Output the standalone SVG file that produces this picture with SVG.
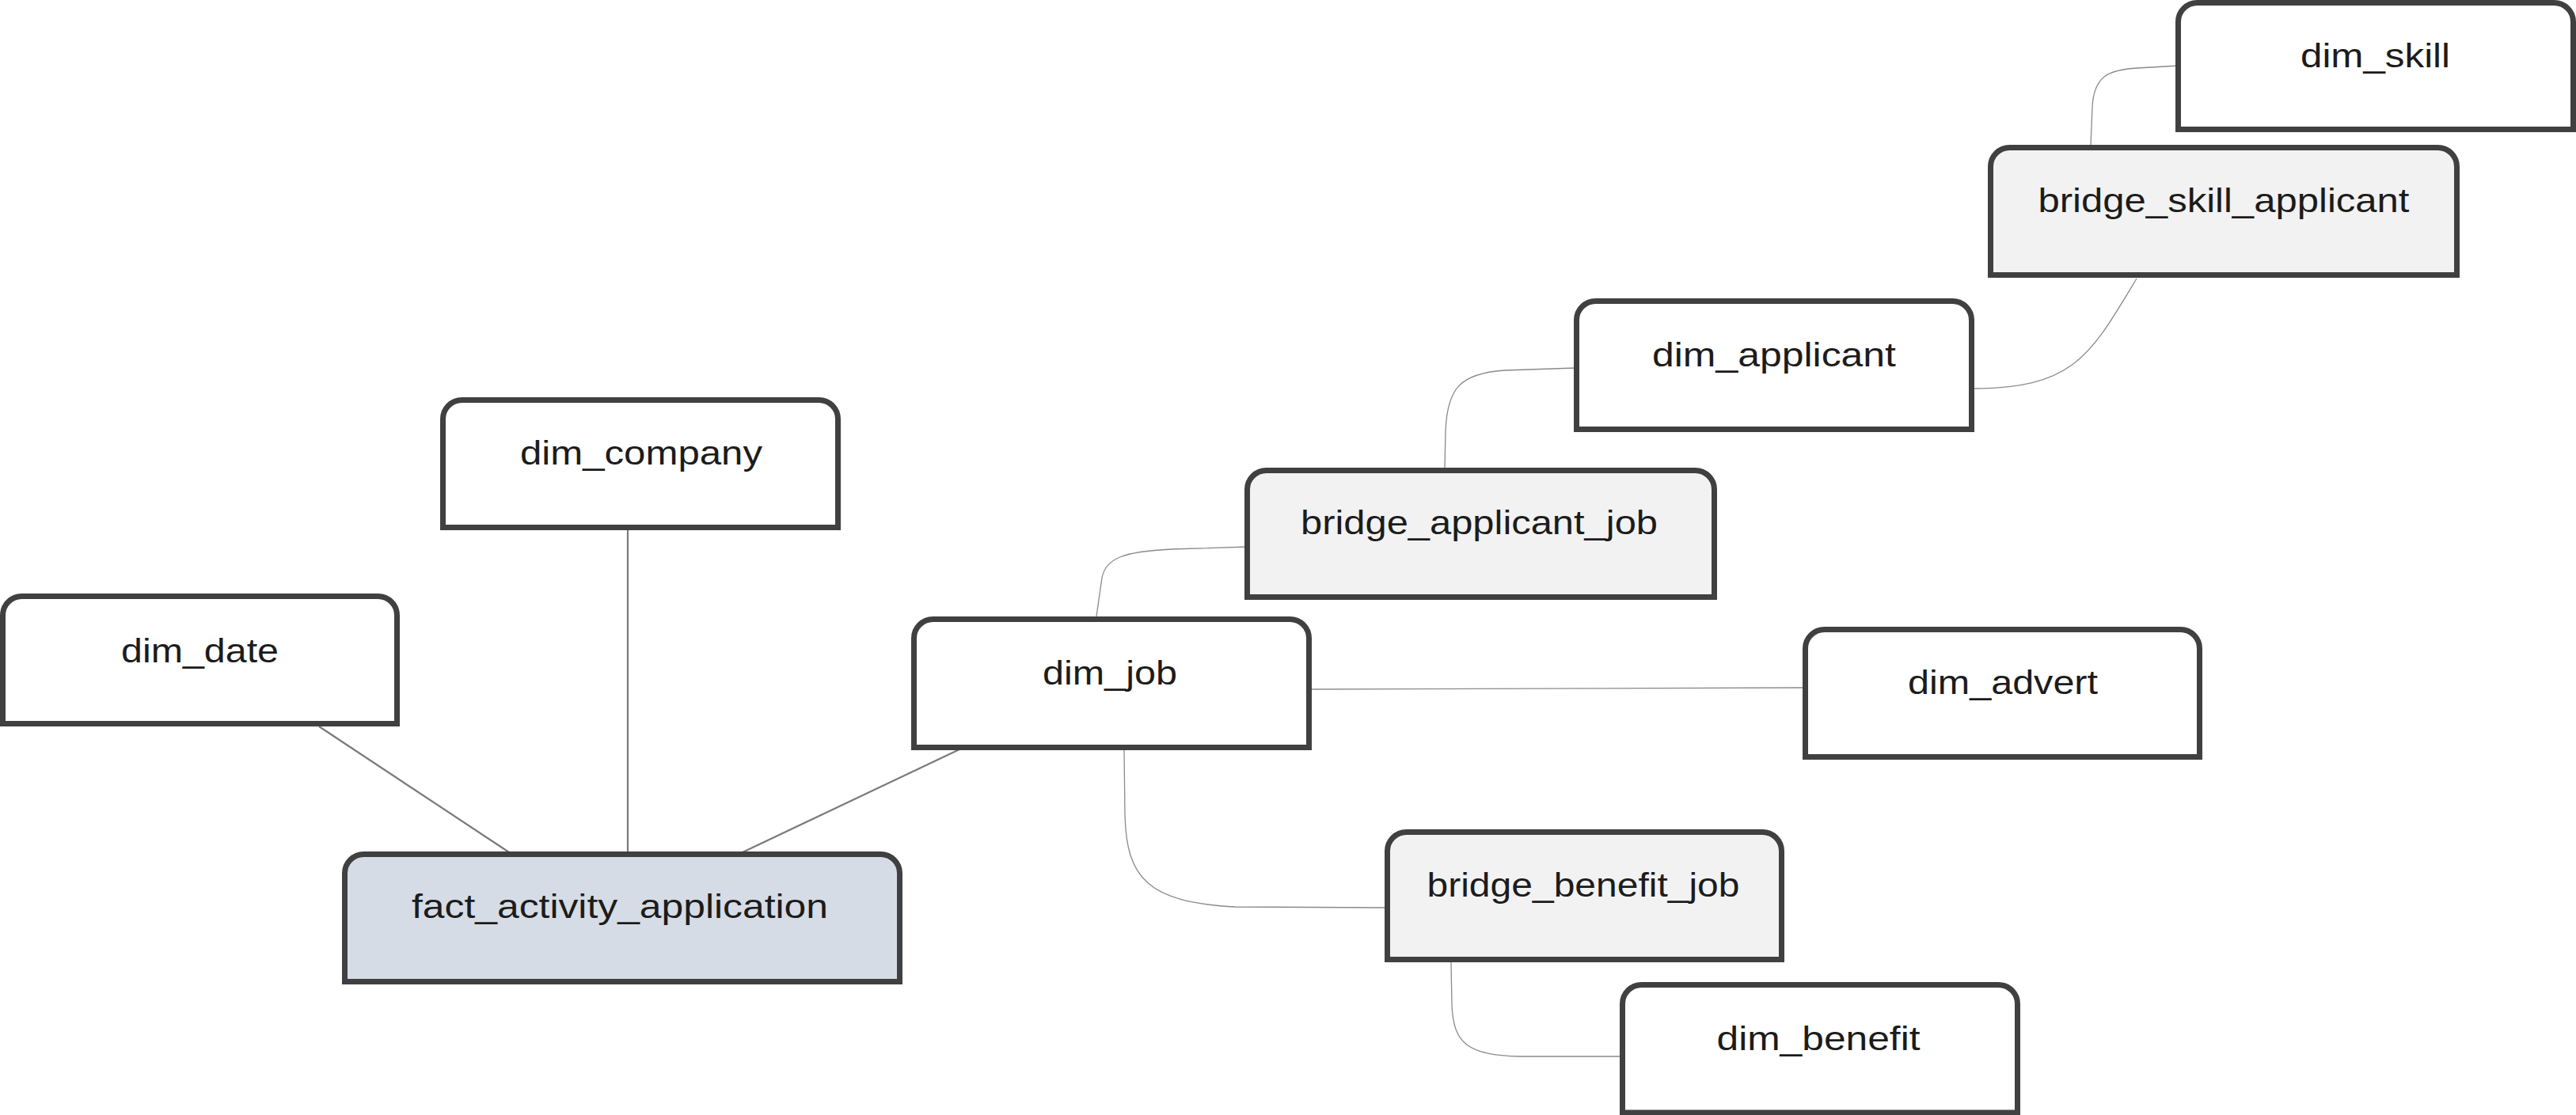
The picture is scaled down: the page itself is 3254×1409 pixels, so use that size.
<svg xmlns="http://www.w3.org/2000/svg" width="3254" height="1409" viewBox="0 0 3254 1409">
<style>
.bg{fill:#ffffff}
.node{stroke:#404040;stroke-width:7;stroke-linejoin:miter}
.dim{fill:#ffffff}
.bridge{fill:#f2f2f2}
.fact{fill:#d6dce5}
.lbl{font-family:"Liberation Sans","Noto Sans",Arial,sans-serif;font-size:42px;fill:#1c1c1c;text-anchor:middle}
.edge{fill:none;stroke:#8a8a8a;stroke-width:1.3}
.edge.main{stroke:#7a7a7a;stroke-width:2.2}
</style>
<rect class="bg" x="0" y="0" width="3254" height="1409"/>
<g id="connectors">
<path class="edge main" d="M403 918 L643 1077"/>
<path class="edge main" d="M793 670 L793 1077"/>
<path class="edge main" d="M1212 947 L938 1077"/>
<path class="edge" d="M1385 779 L1392 730 C1397 705 1420 697 1480 694 L1576 691"/>
<path class="edge" d="M1825 591 L1826 545 C1828 490 1845 472 1900 468 L1990 465"/>
<path class="edge" d="M2490 491 C2620 491 2640 450 2699 352"/>
<path class="edge" d="M2641 184 L2643 135 C2645 95 2665 88 2700 86 L2752 83"/>
<path class="edge" d="M1657 871 L2281 869"/>
<path class="edge" d="M1420 948 L1421 1030 C1423 1110 1450 1140 1560 1146 L1752 1147"/>
<path class="edge" d="M1833 1216 L1834 1270 C1836 1320 1855 1333 1920 1335 L2050 1335"/>
</g>
<g id="dim_date">
<path class="node dim" d="M3.5 914.5 V777.5 A24 24 0 0 1 27.5 753.5 H477.5 A24 24 0 0 1 501.5 777.5 V914.5 Z"/>
<text class="lbl" x="252.5" y="837" textLength="199" lengthAdjust="spacingAndGlyphs">dim_date</text>
</g>
<g id="dim_company">
<path class="node dim" d="M559.5 666.5 V529.5 A24 24 0 0 1 583.5 505.5 H1034.5 A24 24 0 0 1 1058.5 529.5 V666.5 Z"/>
<text class="lbl" x="810" y="587" textLength="306" lengthAdjust="spacingAndGlyphs">dim_company</text>
</g>
<g id="fact_activity_application">
<path class="node fact" d="M435.5 1240.5 V1103.5 A24 24 0 0 1 459.5 1079.5 H1112.5 A24 24 0 0 1 1136.5 1103.5 V1240.5 Z"/>
<text class="lbl" x="783" y="1160" textLength="526" lengthAdjust="spacingAndGlyphs">fact_activity_application</text>
</g>
<g id="dim_job">
<path class="node dim" d="M1154.5 944.5 V806.5 A24 24 0 0 1 1178.5 782.5 H1629.5 A24 24 0 0 1 1653.5 806.5 V944.5 Z"/>
<text class="lbl" x="1402" y="865" textLength="170" lengthAdjust="spacingAndGlyphs">dim_job</text>
</g>
<g id="bridge_applicant_job">
<path class="node bridge" d="M1575.5 754.5 V618.5 A24 24 0 0 1 1599.5 594.5 H2141.5 A24 24 0 0 1 2165.5 618.5 V754.5 Z"/>
<text class="lbl" x="1868.5" y="675" textLength="451" lengthAdjust="spacingAndGlyphs">bridge_applicant_job</text>
</g>
<g id="dim_applicant">
<path class="node dim" d="M1991.5 542.5 V404.5 A24 24 0 0 1 2015.5 380.5 H2466.5 A24 24 0 0 1 2490.5 404.5 V542.5 Z"/>
<text class="lbl" x="2241" y="463" textLength="308" lengthAdjust="spacingAndGlyphs">dim_applicant</text>
</g>
<g id="bridge_skill_applicant">
<path class="node bridge" d="M2514.5 347.5 V210.5 A24 24 0 0 1 2538.5 186.5 H3079.5 A24 24 0 0 1 3103.5 210.5 V347.5 Z"/>
<text class="lbl" x="2809" y="268" textLength="469" lengthAdjust="spacingAndGlyphs">bridge_skill_applicant</text>
</g>
<g id="dim_skill">
<path class="node dim" d="M2751.5 163.5 V27.5 A24 24 0 0 1 2775.5 3.5 H3226.5 A24 24 0 0 1 3250.5 27.5 V163.5 Z"/>
<text class="lbl" x="3000.5" y="85" textLength="189" lengthAdjust="spacingAndGlyphs">dim_skill</text>
</g>
<g id="dim_advert">
<path class="node dim" d="M2280.5 956.5 V819.5 A24 24 0 0 1 2304.5 795.5 H2754.5 A24 24 0 0 1 2778.5 819.5 V956.5 Z"/>
<text class="lbl" x="2530" y="877" textLength="240" lengthAdjust="spacingAndGlyphs">dim_advert</text>
</g>
<g id="bridge_benefit_job">
<path class="node bridge" d="M1752.5 1212.5 V1075.5 A24 24 0 0 1 1776.5 1051.5 H2226.5 A24 24 0 0 1 2250.5 1075.5 V1212.5 Z"/>
<text class="lbl" x="2000" y="1133" textLength="395" lengthAdjust="spacingAndGlyphs">bridge_benefit_job</text>
</g>
<g id="dim_benefit">
<path class="node dim" d="M2049.5 1406 V1268.5 A24 24 0 0 1 2073.5 1244.5 H2524.5 A24 24 0 0 1 2548.5 1268.5 V1406 Z"/>
<text class="lbl" x="2297" y="1327" textLength="257" lengthAdjust="spacingAndGlyphs">dim_benefit</text>
</g>
</svg>
